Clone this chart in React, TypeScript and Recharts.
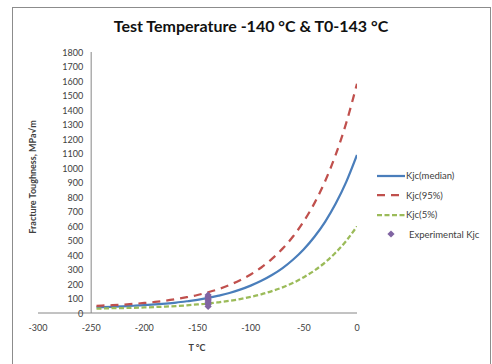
import { ComposedChart, Line, Scatter, XAxis, YAxis, ReferenceLine } from "recharts";

const temps = [-245, -240, -230, -220, -210, -200, -190, -180, -170, -160, -150, -140, -130, -120, -110, -100, -90, -80, -70, -60, -50, -40, -30, -20, -10, 0];
const kjcMedian = [40, 41, 43, 46, 50, 54, 59, 65, 72, 81, 91, 104, 120, 138, 161, 189, 222, 262, 310, 369, 440, 526, 629, 755, 906, 1090];
const kjc95 = [49, 51, 54, 58, 63, 69, 76, 85, 96, 109, 124, 143, 165, 193, 226, 266, 314, 373, 444, 529, 633, 758, 909, 1092, 1314, 1581];
const kjc5 = [31, 31, 33, 34, 36, 38, 41, 44, 48, 53, 59, 65, 74, 84, 96, 111, 129, 151, 177, 208, 247, 293, 349, 417, 499, 598];

const expTemps = [-140, -140, -140, -140, -140, -140, -140, -140];
const expKjc = [45, 58, 70, 82, 92, 103, 113, 124];

const xTicks = [-300, -250, -200, -150, -100, -50, 0];
const yTicks = [0, 100, 200, 300, 400, 500, 600, 700, 800, 900, 1000, 1100, 1200, 1300, 1400, 1500, 1600, 1700, 1800];

const curveRows = temps.map((t, i) => ({ t, med: kjcMedian[i], p95: kjc95[i], p5: kjc5[i] }));
const expRows = expTemps.map((t, i) => ({ t, k: expKjc[i] }));

const FONT = "Lato, 'Open Sans', sans-serif";
const BLUE = "#4a7ebb";
const RED = "#c0504d";
const GREEN = "#9bbb59";
const PURPLE = "#8064a2";

const W = 492;
const H = 364;
const Y_AXIS_W = 30;
const margin = { top: 52, right: 135, bottom: 21, left: 38 - Y_AXIS_W };
const plotW = W - 38 - margin.right;
// value axis sits at x = -250, so its labels are shifted right
const yLabelShift = (plotW * 50) / 300 - 8;

function YTick({ x, y, payload }: any) {
  return (
    <text x={x + yLabelShift} y={y} dy={3.5} textAnchor="end" fontSize={9} fill="#404040" fontFamily={FONT}>
      {payload.value}
    </text>
  );
}

function Diamond({ cx, cy }: any) {
  const r = 3.6;
  return <polygon points={`${cx},${cy - r} ${cx + r},${cy} ${cx},${cy + r} ${cx - r},${cy}`} fill={PURPLE} />;
}

const legendItems = [
  { name: "Kjc(median)", color: BLUE, dash: undefined as string | undefined, marker: false },
  { name: "Kjc(95%)", color: RED, dash: "8 6", marker: false },
  { name: "Kjc(5%)", color: GREEN, dash: "5 2.5", marker: false },
  { name: "Experimental Kjc", color: PURPLE, dash: undefined, marker: true },
];

export default function App() {
  return (
    <div style={{ position: "absolute", left: 0, top: 0, width: W, height: H, overflow: "hidden", background: "#fff" }}>
      <div style={{ position: "absolute", left: 12, top: 7, width: 477, height: 400, border: "1px solid #8c8c8c" }} />
      <div
        style={{
          position: "absolute",
          left: 0,
          width: 502,
          top: 16,
          textAlign: "center",
          fontFamily: FONT,
          fontWeight: 700,
          fontSize: 16,
          color: "#111",
        }}
      >
        Test Temperature -140 °C &amp; T0-143 °C
      </div>
      <div
        style={{
          position: "absolute",
          left: 32,
          top: 177,
          transform: "translate(-50%, -50%) rotate(-90deg)",
          whiteSpace: "nowrap",
          fontFamily: FONT,
          fontWeight: 700,
          fontSize: 9,
          color: "#404040",
        }}
      >
        Fracture Toughness, MPa√m
      </div>
      <div
        style={{
          position: "absolute",
          left: 197,
          top: 347,
          transform: "translate(-50%, -50%)",
          whiteSpace: "nowrap",
          fontFamily: FONT,
          fontWeight: 700,
          fontSize: 9,
          color: "#404040",
        }}
      >
        T °C
      </div>
      <div style={{ position: "absolute", left: 0, top: 0 }}>
        <ComposedChart width={W} height={H} margin={margin}>
          <XAxis
            dataKey="t"
            type="number"
            domain={[-300, 0]}
            ticks={xTicks}
            allowDataOverflow
            height={30}
            axisLine={{ stroke: "#868686" }}
            tickLine={false}
            tickSize={0}
            tickMargin={12}
            tick={{ fontSize: 9, fill: "#404040", fontFamily: FONT }}
          />
          <YAxis
            type="number"
            domain={[0, 1800]}
            ticks={yTicks}
            width={Y_AXIS_W}
            axisLine={false}
            tickLine={false}
            tickSize={0}
            tickMargin={0}
            tick={(p: any) => <YTick {...p} />}
            interval={0}
          />
          <ReferenceLine x={-250} stroke="#868686" strokeWidth={1} />
          <Line data={curveRows} dataKey="med" type="monotone" stroke={BLUE} strokeWidth={2.25} dot={false} isAnimationActive={false} />
          <Line data={curveRows} dataKey="p95" type="monotone" stroke={RED} strokeWidth={2.25} strokeDasharray="8 6" dot={false} isAnimationActive={false} />
          <Line data={curveRows} dataKey="p5" type="monotone" stroke={GREEN} strokeWidth={2.25} strokeDasharray="5 2.5" dot={false} isAnimationActive={false} />
          <Scatter data={expRows} dataKey="k" fill={PURPLE} shape={<Diamond />} isAnimationActive={false} />
        </ComposedChart>
      </div>
      <div style={{ position: "absolute", left: 376, top: 166, fontFamily: FONT, fontSize: 9.5, color: "#404040" }}>
        {legendItems.map((it) => (
          <div key={it.name} style={{ display: "flex", alignItems: "center", height: 19.5 }}>
            <svg width={30} height={10} style={{ marginRight: it.marker ? 3 : 0 }}>
              {it.marker ? (
                <polygon points="15,1.4 18.6,5 15,8.6 11.4,5" fill={it.color} />
              ) : (
                <line x1={1} y1={5} x2={29} y2={5} stroke={it.color} strokeWidth={2.25} strokeDasharray={it.dash} />
              )}
            </svg>
            <span>{it.name}</span>
          </div>
        ))}
      </div>
    </div>
  );
}
